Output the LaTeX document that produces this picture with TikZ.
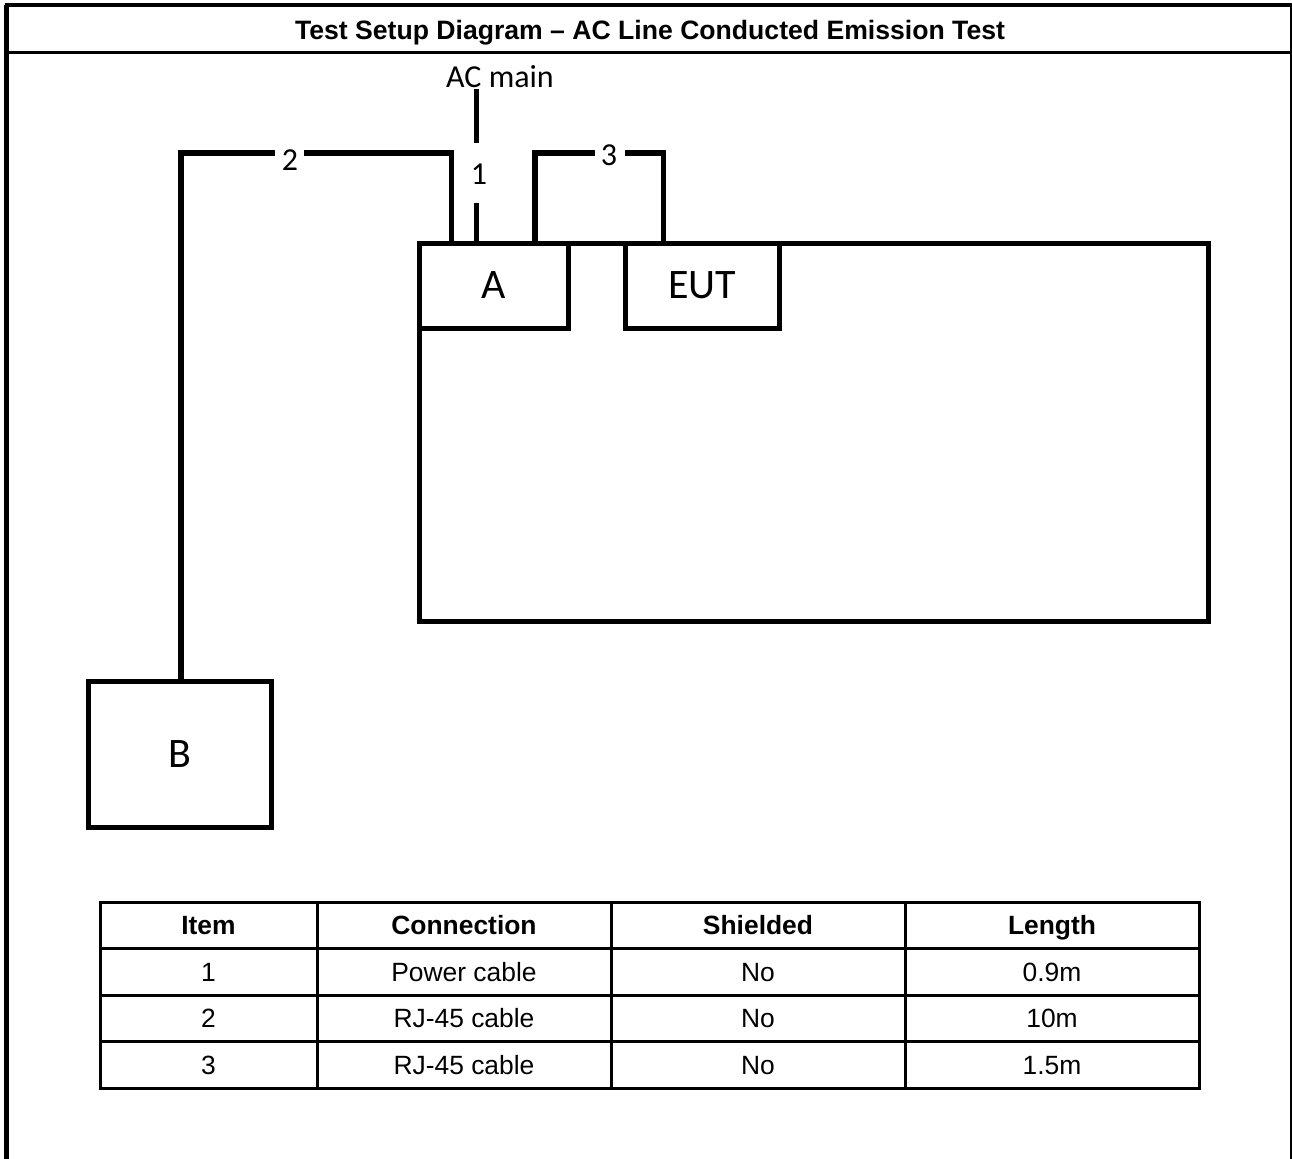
\documentclass[tikz,border=0pt]{standalone}
\usepackage{fontspec}
\newfontfamily\arialfont[Ligatures=TeX]{Liberation Sans}
\newfontfamily\calfont[Ligatures=TeX]{Carlito}
\begin{document}
\begin{tikzpicture}[x=0.5pt,y=-0.5pt,
  frame/.style={line width=2pt},
  box/.style={draw, line width=2.5pt, inner sep=0pt, line join=miter, font=\calfont\fontsize{21}{21}\selectfont},
  cable/.style={line width=2.75pt},
  lbl/.style={inner sep=0pt, anchor=base, font=\calfont\fontsize{16}{16}\selectfont},
  tbl/.style={line width=1.5pt},
  cell/.style={inner sep=0pt, anchor=base, font=\arialfont\fontsize{13.2}{13.2}\selectfont},
  head/.style={cell, font=\arialfont\bfseries\fontsize{13.2}{13.2}\selectfont}]
\useasboundingbox (0,0) rectangle (1292,1158);
% outer frame
\draw[frame, line width=2.5pt] (6.5,1170) -- (6.5,5);
\draw[frame] (4.5,5) -- (1291.5,5) -- (1291.5,1170);
\draw[line width=1.25pt] (6.5,52.7) -- (1291.5,52.7);
\node[inner sep=0pt, anchor=base, font=\arialfont\bfseries\fontsize{13.3}{13.3}\selectfont] (title) at (650,39.5) {Test Setup Diagram \textendash{} AC Line Conducted Emission Test};
% boxes
\node[box, minimum width=394.25pt, minimum height=189pt] (bench) at (813.75,432) {};
\node[box, minimum width=74.25pt, minimum height=42.5pt] (A) at (493.75,285.5) {A};
\node[box, minimum width=76.75pt, minimum height=42.5pt] (EUT) at (702.25,285.5) {EUT};
\node[box, minimum width=91.75pt, minimum height=73pt] (B) at (179.75,754.5) {B};
% labels
\node[lbl] (acmain) at (500,87) {AC main};
\node[lbl] (l1) at (479,184) {1};
\node[lbl] (l2) at (290,170.5) {2};
\node[lbl] (l3) at (609,165) {3};
% cable coordinates
\coordinate (c2a) at (181,153);
\coordinate (c2b) at (451.5,153);
\coordinate (g2l) at (275,153);
\coordinate (g2r) at (304,153);
\coordinate (c1top) at (476.5,89);
\coordinate (g1t) at (476.5,143);
\coordinate (g1b) at (476.5,203);
\coordinate (c3a) at (535,153);
\coordinate (c3b) at (663.5,153);
\coordinate (g3l) at (595,153);
\coordinate (g3r) at (625,153);
% cable 2
\draw[cable] (c2a |- B.north) -- (c2a) -- (g2l);
\draw[cable] (g2r) -- (c2b) -- (c2b |- A.north);
% cable 1
\draw[cable] (c1top) -- (g1t);
\draw[cable] (g1b) -- (g1b |- A.north);
% cable 3
\draw[cable] (c3a |- A.north) -- (c3a) -- (g3l);
\draw[cable] (g3r) -- (c3b) -- (c3b |- EUT.north);
% table
\draw[tbl] (100,902) rectangle (1199,1088);
\foreach \yy in {948,995,1041} \draw[tbl] (100,\yy) -- (1199,\yy);
\foreach \xx in {317,611,905} \draw[tbl] (\xx,902) -- (\xx,1088);
\node[head] (h1) at (208.5,934.5) {Item};
\node[head] (h2) at (464,934.5) {Connection};
\node[head] (h3) at (758,934.5) {Shielded};
\node[head] (h4) at (1052,934.5) {Length};
\node[cell] (r1a) at (208.5,981) {1};
\node[cell] (r1b) at (464,981) {Power cable};
\node[cell] (r1c) at (758,981) {No};
\node[cell] (r1d) at (1052,981) {0.9m};
\node[cell] (r2a) at (208.5,1027.5) {2};
\node[cell] (r2b) at (464,1027.5) {RJ-45 cable};
\node[cell] (r2c) at (758,1027.5) {No};
\node[cell] (r2d) at (1052,1027.5) {10m};
\node[cell] (r3a) at (208.5,1074) {3};
\node[cell] (r3b) at (464,1074) {RJ-45 cable};
\node[cell] (r3c) at (758,1074) {No};
\node[cell] (r3d) at (1052,1074) {1.5m};
\end{tikzpicture}
\end{document}
